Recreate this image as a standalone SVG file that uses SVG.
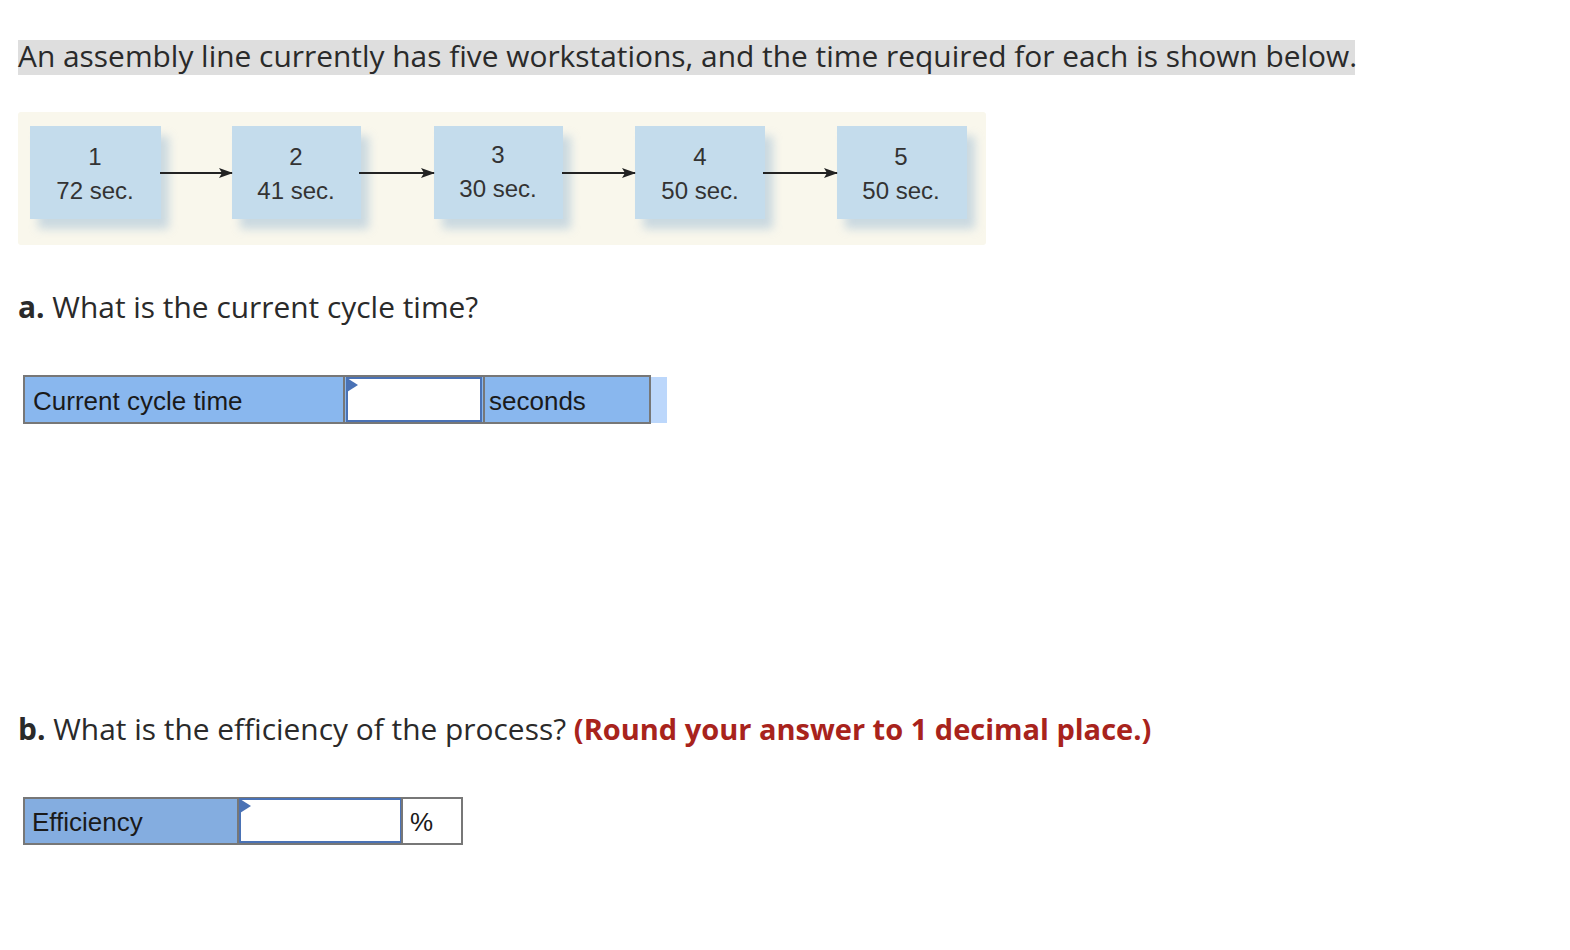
<svg xmlns="http://www.w3.org/2000/svg" width="1570" height="950" viewBox="0 0 1570 950">
<style>
.q{font-family:"Open Sans",Lato,sans-serif;font-size:29.9px;fill:#2a2a2a}
.bx{fill:#c4dcec}
.st{font-family:"Liberation Sans",Arial,sans-serif;font-size:24px;fill:#333;text-anchor:middle}
.cl{font-family:"Liberation Sans",Arial,sans-serif;font-size:26px;fill:#1a1a1a}
.conn{stroke:#222;stroke-width:2;fill:none}
</style>
<defs>
<filter id="sh" x="-30%" y="-30%" width="160%" height="170%"><feGaussianBlur stdDeviation="5"/></filter>
<marker id="ah" markerWidth="14" markerHeight="10" refX="13" refY="5" orient="auto" markerUnits="userSpaceOnUse"><path d="M0,0 L14,5 L0,10 L3,5 Z" fill="#222"/></marker>
</defs>
<rect x="18" y="40" width="1337" height="35" fill="#dedede"/>
<text class="q" x="18" y="67">An assembly line currently has five workstations, and the time required for each is shown below.</text>
<rect x="18" y="112" width="968" height="133" rx="3" fill="#f9f7ec"/>
<g id="s1"><rect x="38" y="136" width="131" height="93" fill="#aac4d8" opacity="0.6" filter="url(#sh)"/><rect class="bx" x="30" y="126" width="131" height="93"/><text class="st" x="95" y="165">1</text><text class="st" x="95" y="199">72 sec.</text></g>
<g id="s2"><rect x="240" y="136" width="129" height="93" fill="#aac4d8" opacity="0.6" filter="url(#sh)"/><rect class="bx" x="232" y="126" width="129" height="93"/><text class="st" x="296" y="165">2</text><text class="st" x="296" y="199">41 sec.</text></g>
<g id="s3"><rect x="442" y="136" width="129" height="93" fill="#aac4d8" opacity="0.6" filter="url(#sh)"/><rect class="bx" x="434" y="126" width="129" height="93"/><text class="st" x="498" y="163">3</text><text class="st" x="498" y="197">30 sec.</text></g>
<g id="s4"><rect x="643" y="136" width="130" height="93" fill="#aac4d8" opacity="0.6" filter="url(#sh)"/><rect class="bx" x="635" y="126" width="130" height="93"/><text class="st" x="700" y="165">4</text><text class="st" x="700" y="199">50 sec.</text></g>
<g id="s5"><rect x="845" y="136" width="130" height="93" fill="#aac4d8" opacity="0.6" filter="url(#sh)"/><rect class="bx" x="837" y="126" width="130" height="93"/><text class="st" x="901" y="165">5</text><text class="st" x="901" y="199">50 sec.</text></g>
<g id="connectors">
<line class="conn" x1="160" y1="173" x2="232" y2="173" marker-end="url(#ah)"/>
<line class="conn" x1="359" y1="173" x2="434" y2="173" marker-end="url(#ah)"/>
<line class="conn" x1="562" y1="173" x2="635" y2="173" marker-end="url(#ah)"/>
<line class="conn" x1="763" y1="173" x2="837" y2="173" marker-end="url(#ah)"/>
</g>
<text class="q" x="18" y="318"><tspan font-weight="bold">a.</tspan> What is the current cycle time?</text>
<g id="tableA">
<rect x="650" y="377" width="17" height="46" fill="#bcd7fb"/>
<rect x="24" y="376" width="626" height="47" fill="#89b7ee" stroke="#777" stroke-width="2"/>
<line x1="344" y1="376" x2="344" y2="423" stroke="#777" stroke-width="2"/>
<line x1="484" y1="376" x2="484" y2="423" stroke="#777" stroke-width="2"/>
<rect x="347" y="378" width="134" height="43" fill="#fff" stroke="#4a72b5" stroke-width="2"/>
<path d="M347,378 L358,385 L347,392 Z" fill="#4a72b5"/>
<text class="cl" x="33" y="410">Current cycle time</text>
<text class="cl" x="489" y="410">seconds</text>
</g>
<text class="q" x="18" y="740"><tspan font-weight="bold">b.</tspan> What is the efficiency of the process? <tspan font-weight="bold" fill="#a8231c" font-size="29px">(Round your answer to 1 decimal place.)</tspan></text>
<g id="tableB">
<rect x="24" y="798" width="438" height="46" fill="#fff" stroke="#777" stroke-width="2"/>
<rect x="25" y="799" width="213" height="44" fill="#84ade0"/>
<line x1="238" y1="798" x2="238" y2="844" stroke="#777" stroke-width="2"/>
<rect x="240" y="799" width="161" height="43" fill="#fff" stroke="#4a72b5" stroke-width="2"/>
<path d="M240,799 L251,806 L240,813 Z" fill="#4a72b5"/>
<line x1="402" y1="798" x2="402" y2="844" stroke="#777" stroke-width="2"/>
<text class="cl" x="32" y="831">Efficiency</text>
<text class="cl" x="410" y="831">%</text>
</g>
</svg>
